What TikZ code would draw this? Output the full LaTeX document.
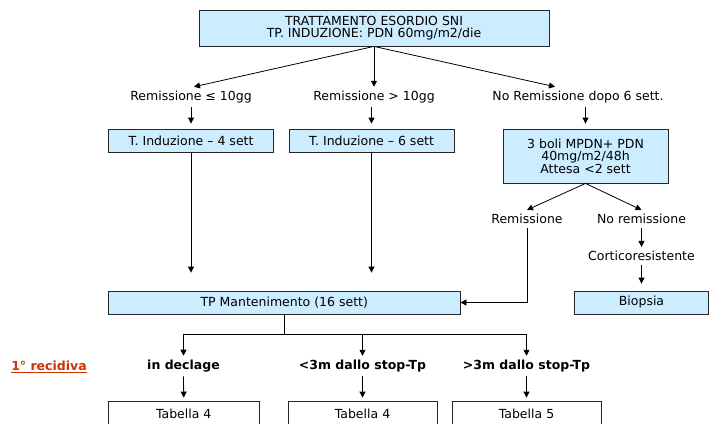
\documentclass[tikz,border=0pt]{standalone}
\usepackage{fontspec}
\setmainfont{DejaVu Sans}
\usepackage{xcolor}
\usetikzlibrary{arrows.meta}
\definecolor{boxblue}{HTML}{CCECFF}
\definecolor{recred}{HTML}{CC3300}
\begin{document}
\begin{tikzpicture}[x=1pt,y=-1pt,font=\fontsize{12.5}{12.5}\selectfont,
  bluebox/.style={draw=black!85,line width=0.8pt,fill=boxblue,inner sep=0pt,align=center},
  tabbox/.style={draw=black!85,line width=0.8pt,fill=white,inner sep=0pt,minimum height=26pt},
  lbl/.style={inner sep=4pt},
  blbl/.style={inner sep=4pt,font=\fontsize{12.5}{12.5}\selectfont\bfseries},
  arr/.style={-{Triangle[length=6pt,width=6pt]},line width=0.8pt}]
\useasboundingbox (0,0) rectangle (709,423);
\node[bluebox,minimum width=350pt,minimum height=36pt] (esordio) at (374,28) {TRATTAMENTO ESORDIO SNI\\TP. INDUZIONE: PDN 60mg/m2/die};
\node[lbl] (rem10) at (191,97) {Remissione ≤ 10gg};
\node[lbl] (remPiu) at (374,97) {Remissione > 10gg};
\node[lbl] (noRem) at (578,97) {No Remissione dopo 6 sett.};
\draw[arr] (esordio.south) -- ([xshift=3pt]rem10.north);
\draw[arr] (esordio.south) -- (remPiu.north);
\draw[arr] (esordio.south) -- ([xshift=-23pt]noRem.north);
\node[bluebox,minimum width=165pt,minimum height=23pt] (ind4) at (191,140.5) {T. Induzione -- 4 sett};
\node[bluebox,minimum width=165pt,minimum height=23pt] (ind6) at (371.5,140.5) {T. Induzione -- 6 sett};
\node[bluebox,minimum width=165pt,minimum height=54pt] (boli) at (585.5,156) {3 boli MPDN+ PDN\\40mg/m2/48h\\Attesa <2 sett};
\draw[arr,shorten >=5pt] (rem10.south) -- (ind4.north);
\draw[arr,shorten >=5pt] (remPiu.south -| ind6.north) -- (ind6.north);
\draw[arr,shorten >=5pt] (noRem.south -| boli.north) -- (boli.north);
\node[bluebox,minimum width=351.5pt,minimum height=23pt] (mant) at (284.25,302.5) {TP Mantenimento (16 sett)};
\node[lbl] (remis) at (527,219) {Remissione};
\node[lbl] (noremis) at (641.5,219) {No remissione};
\node[lbl] (cortico) at (641.5,256) {Corticoresistente};
\node[bluebox,minimum width=134pt,minimum height=23pt] (biopsia) at (641.5,302.5) {Biopsia};
\draw[arr,shorten >=18pt] (ind4.south) -- (ind4.south |- mant.north);
\draw[arr,shorten >=18pt] (ind6.south) -- (ind6.south |- mant.north);
\draw[arr] (boli.south) -- (remis.north);
\draw[arr] (boli.south) -- (noremis.north);
\draw[arr] (remis.south) |- (mant.east);
\draw[arr] (noremis.south) -- (cortico.north);
\draw[arr,shorten >=7pt] (cortico.south) -- (biopsia.north);
\node[inner sep=0pt,text=recred,font=\fontsize{12.5}{12.5}\selectfont\bfseries] (recidiva) at (49,366) {1° recidiva};
\draw[recred,line width=1.2pt] ([yshift=-1.5pt]recidiva.south west) -- ([yshift=-1.5pt]recidiva.south east);
\node[blbl] (declage) at (183.5,366) {in declage};
\node[blbl] (meno3) at (362.5,366) {<3m dallo stop-Tp};
\node[blbl] (piu3) at (526.5,366) {>3m dallo stop-Tp};
\draw[line width=0.8pt] (mant.south) -- ++(0,20) coordinate (split);
\draw[arr] (split) -| (declage.north);
\draw[arr] (split -| meno3.north) -- (meno3.north);
\draw[arr] (split) -| (piu3.north);
\node[tabbox,minimum width=150.5pt] (tab1) at (183.75,414) {Tabella 4};
\node[tabbox,minimum width=149pt] (tab2) at (362.5,414) {Tabella 4};
\node[tabbox,minimum width=149pt] (tab3) at (526.5,414) {Tabella 5};
\draw[arr,shorten >=3pt] (declage.south) -- (tab1.north);
\draw[arr,shorten >=3pt] (meno3.south) -- (tab2.north);
\draw[arr,shorten >=3pt] (piu3.south) -- (tab3.north);
\end{tikzpicture}
\end{document}
